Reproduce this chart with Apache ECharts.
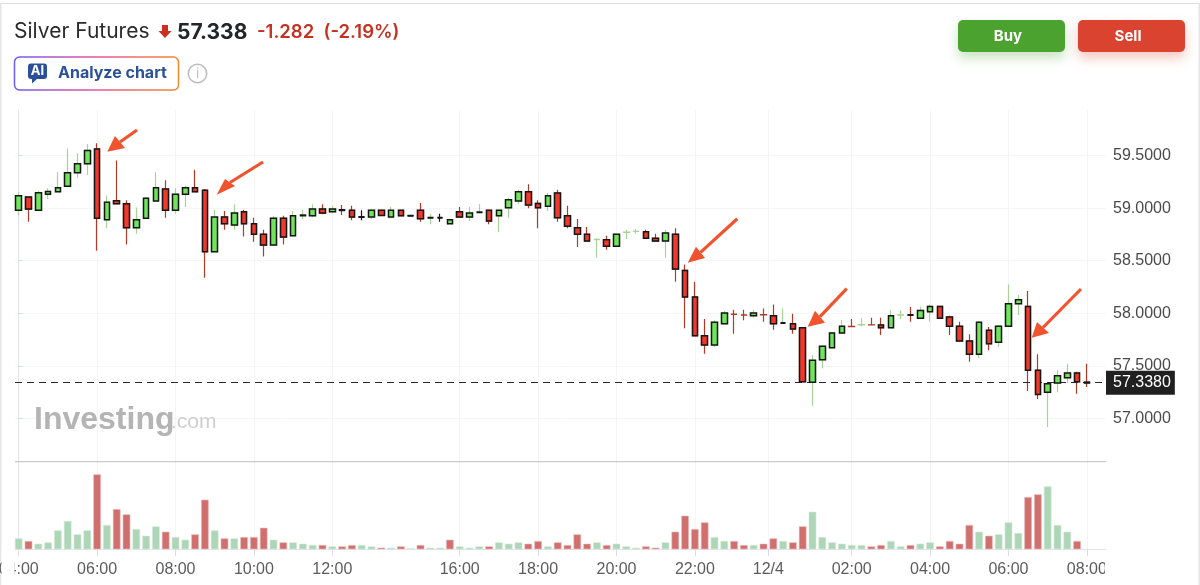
<!DOCTYPE html>
<html><head><meta charset="utf-8">
<style>html,body{margin:0;padding:0;background:#fff}#c{width:1200px;height:585px}</style>
<script src="https://cdn.jsdelivr.net/npm/echarts@6/dist/echarts.min.js"></script>
</head><body><div id="c"></div>
<script>
const opens=[58.979,59.105,58.979,59.131,59.156,59.207,59.337,59.422,59.562,58.890,59.071,59.042,58.814,58.903,59.067,59.181,58.979,59.131,59.194,59.169,58.586,58.915,58.839,58.966,58.852,58.751,58.649,58.903,58.738,58.928,58.928,58.991,58.966,58.985,58.979,58.915,
58.915,58.979,58.915,58.979,58.928,58.979,58.909,58.909,58.852,58.966,58.915,58.960,58.979,58.928,59.004,59.068,59.156,59.045,59.017,59.144,58.928,58.814,58.751,58.700,58.700,58.637,58.770,58.778,58.776,58.713,58.687,58.751,58.408,58.155,57.787,57.699,57.901,57.992,57.985,57.977,57.988,57.977,57.908,57.901,57.863,57.344,57.559,57.673,57.813,57.876,57.890,57.891,57.889,57.863,57.983,57.984,57.952,58.015,58.066,57.965,57.876,57.737,57.610,57.838,57.724,57.876,58.092,58.066,57.458,57.249,57.337,57.388,57.432,57.345];
const closes=[59.118,58.991,59.147,59.159,59.194,59.337,59.422,59.549,58.903,59.055,59.042,58.814,58.890,59.093,59.194,58.979,59.131,59.194,59.156,58.586,58.915,58.852,58.953,58.852,58.751,58.649,58.903,58.725,58.928,58.934,58.991,58.953,58.991,58.978,58.915,58.915,
58.979,58.931,58.979,58.928,58.928,58.900,58.909,58.909,58.890,58.915,58.954,58.960,58.877,58.979,59.080,59.156,59.030,59.004,59.118,58.909,58.827,58.751,58.687,58.703,58.637,58.751,58.773,58.780,58.713,58.687,58.763,58.421,58.155,57.787,57.699,57.914,58.003,57.990,57.983,58.003,57.986,57.901,57.908,57.851,57.350,57.553,57.686,57.813,57.876,57.874,57.892,57.889,57.863,57.977,57.985,57.984,58.028,58.066,57.952,57.876,57.737,57.610,57.914,57.711,57.876,58.092,58.130,57.458,57.229,57.331,57.407,57.432,57.350,57.338];
const highs=[59.150,59.105,59.163,59.188,59.340,59.568,59.521,59.609,59.616,59.121,59.454,59.074,59.007,59.105,59.340,59.264,59.188,59.213,59.365,59.181,58.985,58.972,59.036,58.985,58.909,58.795,58.928,58.928,58.972,58.985,59.036,59.036,59.023,59.030,59.023,58.979,
58.979,58.979,59.011,58.979,58.928,59.049,58.947,58.947,58.895,59.011,59.011,59.036,58.979,58.979,59.099,59.175,59.226,59.074,59.144,59.175,59.023,58.897,58.820,58.713,58.738,58.751,58.795,58.801,58.795,58.757,58.795,58.808,58.465,58.301,57.946,57.933,58.022,58.035,58.035,58.035,58.047,58.085,58.047,57.996,57.863,57.604,57.699,57.825,57.933,57.946,57.952,57.958,57.958,58.035,58.028,58.060,58.066,58.085,58.066,57.977,57.920,57.800,57.927,57.870,57.889,58.275,58.174,58.212,57.610,57.344,57.458,57.521,57.445,57.521];
const lows=[58.934,58.871,58.979,59.086,59.156,59.207,59.289,59.315,58.595,58.808,59.042,58.655,58.757,58.903,59.067,58.909,58.947,59.010,59.156,58.339,58.586,58.795,58.795,58.731,58.681,58.541,58.649,58.655,58.738,58.896,58.915,58.941,58.953,58.934,58.884,58.884,
58.896,58.931,58.915,58.928,58.928,58.871,58.846,58.871,58.852,58.915,58.877,58.960,58.846,58.770,58.909,59.036,58.998,58.808,58.973,58.871,58.808,58.630,58.687,58.529,58.605,58.637,58.706,58.757,58.713,58.687,58.529,58.301,57.857,57.787,57.616,57.680,57.901,57.806,57.933,57.958,57.920,57.844,57.908,57.806,57.350,57.122,57.477,57.673,57.813,57.874,57.876,57.889,57.794,57.863,57.946,57.920,57.952,57.920,57.952,57.794,57.737,57.540,57.578,57.648,57.680,57.876,57.984,57.261,57.185,56.919,57.249,57.337,57.236,57.299];
const volumes=[31,23,15,19,55,83,43,55,223,71,119,103,59,39,67,51,35,27,43,147,55,31,31,35,35,63,27,19,19,15,11,11,7,7,11,11,7,3,3,7,1,11,3,3,27,7,3,7,7,19,15,19,15,23,7,19,11,43,15,19,11,15,7,3,7,3,19,51,99,59,79,35,23,23,11,11,15,31,23,19,67,111,35,19,15,11,11,7,11,23,7,11,15,19,7,23,15,71,51,39,43,79,47,155,163,187,71,51,23];
const volRed=[1,8,10,11,15,18,19,21,23,24,25,27,31,33,34,37,39,41,44,48,52,53,55,56,57,58,60,64,65,67,68,69,70,73,74,76,77,79,80,87,88,91,94,95,96,97,99,103,104,108];
const blackDoji=[35,40,42,43,47,78,91];
const greenWickDoji=[42,47,78];
const redWickDoji=[91];
const tickIndex=[0,8,16,24,32,45,53,61,69,76.5,85,93,101,109];
const tickLabels=["04:00","06:00","08:00","10:00","12:00","16:00","18:00","20:00","22:00","12/4","02:00","04:00","06:00","08:00"];
const priceTicks=[57,57.5,58,58.5,59,59.5];
const lastPrice=57.338;
const arrows=[[[137,130],[107.3,151.7],[115,136],[125,148]],[[263,162],[216.7,194.7],[225,179],[235,186]],[[737.3,218.7],[687.7,262.7],[696,246.7],[705,258]],[[846.7,288.7],[807.7,326.7],[815,310.7],[825,322.7]],[[1081,289],[1031.7,337.7],[1037,322],[1049,333]]];

const UP='#6fe65a',DN='#f2382a',WU='#a9d29a',WD='#b23a28',BK='#161616';
const wickData=[],bodyData=[];
opens.forEach((o,i)=>{
  const c=closes[i];
  let col=c>o?WU:c<o?WD:BK;
  if(greenWickDoji.includes(i))col=WU;
  if(redWickDoji.includes(i))col=WD;
  wickData.push({value:[i,o,c,lows[i],highs[i]],itemStyle:{color:col,color0:col,borderColor:col,borderColor0:col,borderColorDoji:col}});
  const tiny=Math.abs(o-c)<0.004;
  if(blackDoji.includes(i)){
    bodyData.push({value:[i,o,c,Math.min(o,c),Math.max(o,c)],itemStyle:{borderColor:BK,borderColor0:BK,borderColorDoji:BK,borderWidth:2}});
  }else if(!tiny){
    bodyData.push({value:[i,o,c,Math.min(o,c),Math.max(o,c)]});
  }
});
const volData=volumes.map((v,i)=>[i,v,volRed.includes(i)?1:0]);
const labelOf=v=>{const k=tickIndex.indexOf(v);return k<0?'':tickLabels[k]};
const F='Inter, "Liberation Sans", sans-serif',A='"Liberation Sans", sans-serif';
const grad=new echarts.graphic.LinearGradient(0,0,1,0,[{offset:0,color:'#6d5bf0'},{offset:.5,color:'#e8559a'},{offset:1,color:'#f08a2c'}]);
const g=[
 {type:'rect',z:0,shape:{x:0,y:3,width:1200,height:1},style:{fill:'#dedede'}},
 {type:'rect',z:0,shape:{x:0,y:3,width:1.5,height:582},style:{fill:'#e6e6e6'}},
 {type:'rect',z:0,shape:{x:1198.5,y:3,width:1.5,height:582},style:{fill:'#e6e6e6'}},
 {type:'text',z:5,style:{x:14,y:32,text:'Silver Futures',font:'400 21px '+F,fill:'#2a2a2a',verticalAlign:'middle'}},
 {type:'polygon',z:5,shape:{points:[[162,25],[168,25],[168,31],[171.5,31],[165,38],[158.5,31],[162,31]]},style:{fill:'#c9301f'}},
 {type:'text',z:5,style:{x:177,y:32.5,text:'57.338',font:'700 21px '+F,fill:'#232526',verticalAlign:'middle'}},
 {type:'text',z:5,style:{x:257,y:32,text:'-1.282',font:'600 18.5px '+F,fill:'#c5301f',verticalAlign:'middle'}},
 {type:'text',z:5,style:{x:323.5,y:32,text:'(-2.19%)',font:'600 18.5px '+F,fill:'#c5301f',verticalAlign:'middle'}},
 {type:'rect',z:5,shape:{x:14.5,y:57,width:164,height:33,r:5},style:{fill:'#fff',stroke:grad,lineWidth:1.5}},
 {type:'rect',z:6,shape:{x:28,y:63.5,width:19,height:15.5,r:3},style:{fill:'#2a5099'}},
 {type:'polygon',z:6,shape:{points:[[32,78],[38,78],[32,83.5]]},style:{fill:'#2a5099'}},
 {type:'text',z:7,style:{x:37.5,y:71.5,text:'AI',font:'700 13px '+F,fill:'#fff',align:'center',verticalAlign:'middle'}},
 {type:'text',z:6,style:{x:58,y:73.5,text:'Analyze chart',font:'700 16px '+F,fill:'#2a5099',verticalAlign:'middle'}},
 {type:'circle',z:5,shape:{cx:197.5,cy:73.5,r:9.2},style:{fill:'#fff',stroke:'#bdbdbd',lineWidth:1.6}},
 {type:'text',z:6,style:{x:197.5,y:74,text:'i',font:'400 13px '+F,fill:'#bdbdbd',align:'center',verticalAlign:'middle'}},
 {type:'rect',z:5,shape:{x:958,y:20,width:107,height:32,r:5},style:{fill:'#4ca22f',shadowBlur:12,shadowOffsetY:6,shadowColor:'rgba(76,162,47,.3)'}},
 {type:'text',z:6,style:{x:1008,y:36,text:'Buy',font:'700 15px '+F,fill:'#fff',align:'center',verticalAlign:'middle'}},
 {type:'rect',z:5,shape:{x:1078,y:20,width:107,height:32,r:5},style:{fill:'#d9432f',shadowBlur:12,shadowOffsetY:6,shadowColor:'rgba(217,67,47,.3)'}},
 {type:'text',z:6,style:{x:1128,y:36,text:'Sell',font:'700 15px '+F,fill:'#fff',align:'center',verticalAlign:'middle'}},
 {type:'text',z:1,style:{x:34,y:420,text:'Investing',font:'700 32px '+A,fill:'#b4b4b4',verticalAlign:'middle'}},
 {type:'text',z:1,style:{x:171,y:422,text:'.com',font:'400 21px '+A,fill:'#cfcfcf',verticalAlign:'middle'}},
 {type:'rect',z:20,shape:{x:15,y:461,width:1091,height:1.3},style:{fill:'#c9c9c9'}},
 {type:'rect',z:90,shape:{x:1.5,y:551,width:13,height:34},style:{fill:'#fff'}},
 {type:'rect',z:90,shape:{x:1105,y:558,width:93,height:27},style:{fill:'#fff'}}
];
arrows.forEach(a=>{
  const mid=[(a[2][0]+a[3][0])/2,(a[2][1]+a[3][1])/2];
  g.push({type:'line',z:80,shape:{x1:a[0][0],y1:a[0][1],x2:mid[0],y2:mid[1]},style:{stroke:'#f0532d',lineWidth:3.2}});
  g.push({type:'polygon',z:81,shape:{points:[a[1],a[2],a[3]]},style:{fill:'#f0532d'}});
});
const chart=echarts.init(document.getElementById('c'),null,{renderer:'canvas'});
const tickVals=tickIndex;
const xMin=-0.378,xMax=110.95;
const xCommon={type:'value',min:xMin,max:xMax,
  axisLine:{show:true,lineStyle:{color:'#e0e3eb',width:1}},
  splitLine:{show:true,lineStyle:{color:'#f4f5f8',width:1}}};
chart.setOption({
 animation:false,backgroundColor:'#fff',
 grid:[{left:15,right:94,top:110,height:351,outerBoundsMode:'none'},{left:15,right:94,top:462,height:87,outerBoundsMode:'none'}],
 xAxis:[
  Object.assign({},xCommon,{gridIndex:0,axisLine:{show:false},axisTick:{show:false,customValues:tickVals},axisLabel:{show:false,customValues:tickVals}}),
  Object.assign({},xCommon,{gridIndex:1,axisTick:{show:true,length:7,lineStyle:{color:'#d8dce6'},customValues:tickVals},
    axisLabel:{show:true,customValues:tickVals,margin:13,fontSize:16,fontFamily:A,hideOverlap:false,showMinLabel:true,showMaxLabel:true,
      color:v=>v===76.5?'#333':'#5c5c5c',formatter:labelOf}})
 ],
 yAxis:[
  {type:'value',gridIndex:0,position:'right',min:56.596,max:59.933,scale:true,
   axisLine:{show:true,lineStyle:{color:'#e0e3eb',width:1}},
   axisTick:{show:true,length:4,lineStyle:{color:'#d8dce6'},customValues:priceTicks},
   axisLabel:{customValues:priceTicks,margin:7,fontSize:16,fontFamily:A,color:'#4a4a4a',padding:[2,0,0,0],formatter:v=>v.toFixed(4)},
   splitLine:{show:true,lineStyle:{color:'#f5f6f8'}}},
  {type:'value',gridIndex:1,position:'right',min:0,max:261,
   axisLine:{show:true,lineStyle:{color:'#e0e3eb',width:1}},axisTick:{show:false},axisLabel:{show:false},splitLine:{show:false}}
 ],
 series:[
  {type:'candlestick',name:'wick',xAxisIndex:0,yAxisIndex:0,barWidth:6,z:3,data:wickData,encode:{x:0,y:[1,2,3,4]},
   itemStyle:{borderWidth:1.2},
   markLine:{silent:true,symbol:'none',animation:false,lineStyle:{color:'#2a2a2a',type:[7,5],width:1.1},
     label:{show:true,position:'end',distance:0,formatter:()=>lastPrice.toFixed(4),color:'#fff',backgroundColor:'#202020',fontSize:16,fontFamily:A,padding:[5,4,3,7]},
     data:[{yAxis:lastPrice}],z:4}},
  {type:'candlestick',name:'body',xAxisIndex:0,yAxisIndex:0,barWidth:6,z:5,data:bodyData,encode:{x:0,y:[1,2,3,4]},
   itemStyle:{color:UP,color0:DN,borderColor:BK,borderColor0:BK,borderColorDoji:BK,borderWidth:1.5}},
  {type:'custom',name:'volume',xAxisIndex:1,yAxisIndex:1,data:volData,encode:{x:0,y:1},
   renderItem:(p,api)=>{
     const top=api.coord([api.value(0),api.value(1)]),base=api.coord([api.value(0),0]);
     const red=api.value(2)===1;
     return {type:'rect',shape:{x:top[0]-3.5,y:top[1],width:7,height:base[1]-top[1]},
       style:{fill:red?'#d0706e':'#add6b7',stroke:red?'#eeb9b8':'#d3ead9',lineWidth:.6}};
   }}
 ],
 graphic:{elements:g}
});
</script></body></html>
